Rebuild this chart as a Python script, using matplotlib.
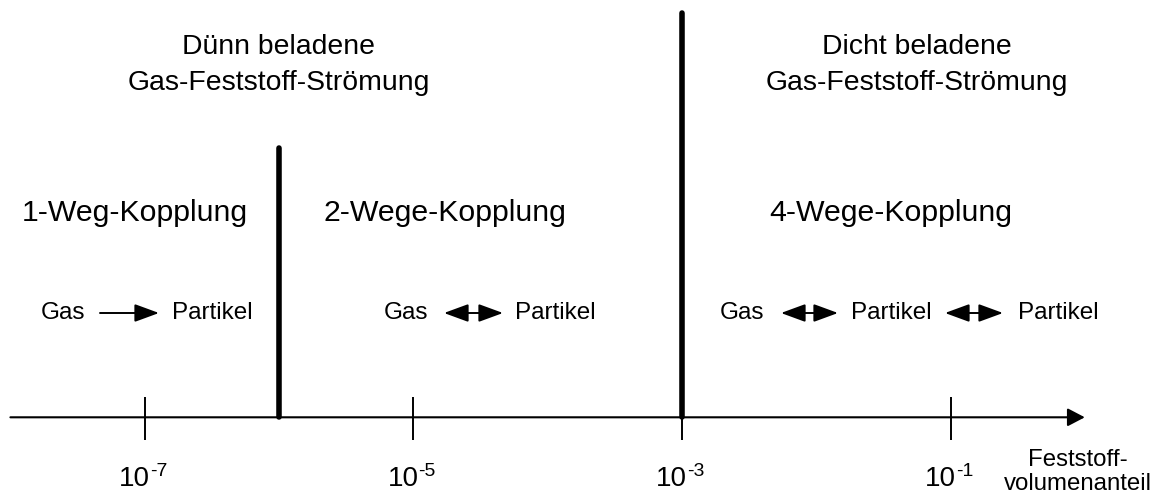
import matplotlib
matplotlib.use("Agg")
import matplotlib.pyplot as plt
import numpy as np

plt.rcParams['font.family'] = ['Liberation Sans', 'DejaVu Sans']

# ---- data ----
tick_exponents = [-7, -5, -3, -1]
tick_base = '10'
tick_exp_labels = ['-7', '-5', '-3', '-1']
boundary_exponents = [-6, -3]          # regime borders
axis_range_exponents = [-8, 0]
axis_label = 'Feststoff-\nvolumenanteil'
header_texts = ['Dünn beladene\nGas-Feststoff-Strömung',
                'Dicht beladene\nGas-Feststoff-Strömung']
coupling_texts = ['1-Weg-Kopplung', '2-Wege-Kopplung', '4-Wege-Kopplung']

# ---- layout helpers (pixel -> decade) ----
W, H = 1162, 495
def L(px):
    return -7 + (px - 144.7) / 134.3
def X(px):
    return 10 ** L(px)

fig = plt.figure(figsize=(W / 100, H / 100), dpi=100)
ax = fig.add_axes([0, 0, 1, 1])
ax.set_xscale('log')
ax.set_xlim(X(0), X(W))
ax.set_ylim(H, 0)
ax.axis('off')

y_axis = 417.3
# main axis arrow
ax.annotate('', xy=(10.0 ** axis_range_exponents[1], y_axis),
            xytext=(10.0 ** axis_range_exponents[0], y_axis),
            arrowprops=dict(arrowstyle='-|>,head_length=1.05,head_width=0.55',
                            mutation_scale=10, lw=1.5, color='black',
                            shrinkA=0, shrinkB=0))

# ticks & labels
for e, ex in zip(tick_exponents, tick_exp_labels):
    ax.plot([10.0 ** e] * 2, [397, 440], color='black', lw=1.4, solid_capstyle='butt')
    ax.annotate(tick_base, xy=(10.0 ** e, 486), xytext=(3.8, 0),
                textcoords='offset points', ha='right', va='baseline', fontsize=20)
    ax.annotate(ex, xy=(10.0 ** e, 486), xytext=(3.8, 7.5),
                textcoords='offset points', ha='left', va='baseline', fontsize=14)

# regime borders
tops = [148, 13]
for e, t in zip(boundary_exponents, tops):
    ax.plot([10.0 ** e] * 2, [t, y_axis], color='black', lw=4, solid_capstyle='round')

# axis label
ax.text(X(1078), 472, axis_label, ha='center', va='center', fontsize=17.3,
        linespacing=1.1)

# headers
ax.text(X(279), 65, header_texts[0], ha='center', va='center', fontsize=20.4,
        linespacing=1.48)
ax.text(X(917), 65, header_texts[1], ha='center', va='center', fontsize=20.4,
        linespacing=1.48)

# coupling titles
for px, t in zip([135, 445, 891], coupling_texts):
    ax.text(X(px), 213, t, ha='center', va='center', fontsize=21.8)

# gas / particle row
y_row = 313
word_pos = [(63.5, 'Gas'), (212, 'Partikel'),
            (406, 'Gas'), (555, 'Partikel'),
            (742, 'Gas'), (891.5, 'Partikel'), (1058, 'Partikel')]
for px, t in word_pos:
    ax.text(X(px), y_row, t, ha='center', va='center', fontsize=17.5)

arrows = [(100, 159, '-|>'), (444, 503, '<|-|>'),
          (781, 838, '<|-|>'), (945, 1003, '<|-|>')]
for a, b, st in arrows:
    ax.annotate('', xy=(X(b), y_row), xytext=(X(a), y_row),
                arrowprops=dict(arrowstyle=st + ',head_length=1.5,head_width=0.55',
                                mutation_scale=10, lw=1.4, color='black',
                                shrinkA=0, shrinkB=0))

fig.savefig('out.png', dpi=100)
